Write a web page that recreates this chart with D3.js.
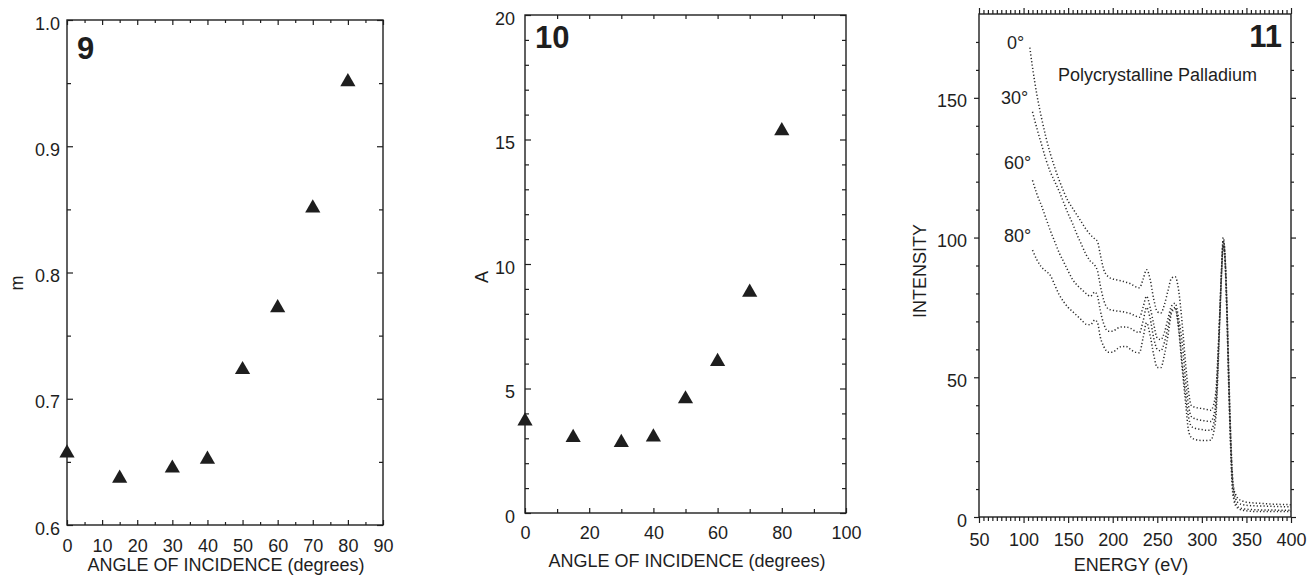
<!DOCTYPE html>
<html><head><meta charset="utf-8">
<script src="https://cdn.jsdelivr.net/npm/d3@7"></script>
<style>
body{margin:0;background:#fff;}
svg text{font-family:"Liberation Sans",Arial,Helvetica,sans-serif;fill:#1e1e1e;}
</style></head><body>
<svg id="c" width="1307" height="576"></svg>
<script>
// ---------- data ----------
const angles = [0, 15, 30, 40, 50, 60, 70, 80];
const mValues = [0.657, 0.637, 0.645, 0.652, 0.723, 0.772, 0.851, 0.951];
const aValues = [3.69, 3.03, 2.83, 3.05, 4.58, 6.08, 8.86, 15.35];

const fig9XTicks = [0, 10, 20, 30, 40, 50, 60, 70, 80, 90];
const fig9YTicks = [0.6, 0.7, 0.8, 0.9, 1.0];
const fig10XTicks = [0, 20, 40, 60, 80, 100];
const fig10YTicks = [0, 5, 10, 15, 20];
const fig11XTicks = [50, 100, 150, 200, 250, 300, 350, 400];
const fig11YTicks = [0, 50, 100, 150];

const energy = [107,110,115,120,125,130,135,140,145,150,155,160,165,170,175,180,183,186,190,195,
  200,205,210,215,220,225,230,234,238,242,246,250,254,258,262,266,270,274,278,282,285,288,292,296,
  300,305,310,313,316,318,320,322,324,326,328,330,332,334,336,338,341,345,350,360,370,380,390,400];
const int0 = [168,161,151,143,136,130,125,120.5,116.5,113,110.5,108,105.5,103,101,99.5,98.5,94,88.5,86,
  85.2,84.8,84.5,84,83.5,82.5,82,85,88.5,85,78,73.5,73,76,81,85.5,86,81,69,54,45,40,39.3,39,
  38.8,38.5,38.2,40,46,58,72,88,100,94,78,55,33,17,10,8,6.5,5.8,5.3,5,4.8,4.6,4.5,4.4];
const int30 = [null,145,139,133.5,128,123.5,120,116.5,112.5,108.5,105,101,97.5,94,91.5,90,88,83,77.5,74.5,
  74,73.7,73.5,73.2,72.8,72,71.5,75,79,75,69,64,63.5,66,71,75.5,76.5,71,62,48,40,36,35.2,34.8,
  34.6,34.3,34.2,36,43,56,72,88,99,93,76,52,31,15,9,6.5,5,4.5,4.2,4,3.9,3.8,3.7,3.6];
const int60 = [null,120.5,115.5,111.5,107,102.5,98.5,94.5,91.3,88,85,83,81.5,80,79,80.5,79,74,69,66.5,
  66.5,67.5,68,68,67.5,66.5,66,70,75,71,64,60,59.5,62.5,68,74,75,68,55,43,36,32.5,31.8,31.5,
  31.3,31,31,33,40,54,71,87,98,92,74,50,29,13,7,5,3.5,3,2.8,2.6,2.5,2.5,2.4,2.4];
const int80 = [null,95.5,92,89.5,88,86.5,83,79.5,77,75,73.5,72,70.5,69,68.8,70.5,69.5,64.5,61,59,
  59,60.2,61,61,60,59,58.8,64,69.5,65,58,53.5,53.5,58,65,73,74.5,67,53,40,31,28.5,27.8,27.5,
  27.4,27.4,27.5,30,37,51,69,86,97,91,73,48,27,11,6,4,3,2.5,2.2,2,2,2,2,2];
const spectra = [int0, int30, int60, int80];
const spectrumLabels = ["0°", "30°", "60°", "80°"];

// ---------- drawing ----------
const ink = "#1e1e1e";
const svg = d3.select("#c");
const FS = 18;

function styleAxis(g) {
  g.select(".domain").remove();
  g.selectAll("line").attr("stroke", ink).attr("stroke-width", 1.2);
  g.selectAll("text").attr("font-size", FS).attr("fill", ink)
    .style("font-family", '"Liberation Sans",Arial,sans-serif');
}

function frame(x, y) {
  const [x0, x1] = x.range(), [y0, y1] = y.range();
  svg.append("rect").attr("x", x0).attr("y", y1).attr("width", x1 - x0).attr("height", y0 - y1)
    .attr("fill", "none").attr("stroke", ink).attr("stroke-width", 1.4);
}

function ticksOnly(axisFn, scale, values, size, translate) {
  svg.append("g").attr("transform", translate)
    .call(axisFn(scale).tickValues(values).tickSize(size).tickFormat(""))
    .call(styleAxis);
}

// ===== Panel 9 =====
const x9 = d3.scaleLinear().domain([0, 90]).range([67, 383]);
const y9 = d3.scaleLinear().domain([0.6, 1.0]).range([525, 20]);
frame(x9, y9);
ticksOnly(d3.axisBottom, x9, d3.range(5, 90, 10), -3, `translate(0,${y9(0.6)})`);
ticksOnly(d3.axisTop, x9, d3.range(5, 90, 10), -3, `translate(0,${y9(1.0)})`);
ticksOnly(d3.axisTop, x9, fig9XTicks, -5, `translate(0,${y9(1.0)})`);
svg.append("g").attr("transform", `translate(0,${y9(0.6)})`)
  .call(d3.axisBottom(x9).tickValues(fig9XTicks).tickSize(-5).tickPadding(14).tickFormat(d3.format("d")))
  .call(styleAxis);
ticksOnly(d3.axisLeft, y9, [0.65, 0.75, 0.85, 0.95], -4, `translate(${x9(0)},0)`);
ticksOnly(d3.axisRight, y9, [0.65, 0.75, 0.85, 0.95], -4, `translate(${x9(90)},0)`);
ticksOnly(d3.axisRight, y9, fig9YTicks, -6, `translate(${x9(90)},0)`);
svg.append("g").attr("transform", `translate(${x9(0)},0)`)
  .call(d3.axisLeft(y9).tickValues(fig9YTicks).tickSize(-6).tickPadding(7).tickFormat(d3.format(".1f")))
  .call(styleAxis)
  .call(g => g.selectAll("text").attr("dy", "0.5em"));

const tri = d3.symbol().type(d3.symbolTriangle).size(100);
svg.append("g").selectAll("path").data(angles).join("path")
  .attr("d", tri).attr("fill", ink)
  .attr("transform", (d, i) => `translate(${x9(d)},${y9(mValues[i])})`);

svg.append("text").attr("x", 77).attr("y", 59).attr("font-size", 31).attr("font-weight", "bold").text("9");
svg.append("text").attr("transform", "translate(23,283) rotate(-90)").attr("text-anchor", "middle")
  .attr("font-size", FS).text("m");
svg.append("text").attr("x", 226).attr("y", 571).attr("text-anchor", "middle")
  .attr("font-size", FS).text("ANGLE OF INCIDENCE (degrees)");

// ===== Panel 10 =====
const x10 = d3.scaleLinear().domain([0, 100]).range([525, 846]);
const y10 = d3.scaleLinear().domain([0, 20]).range([513, 15]);
frame(x10, y10);
ticksOnly(d3.axisBottom, x10, d3.range(10, 100, 20), -4, `translate(0,${y10(0)})`);
ticksOnly(d3.axisTop, x10, d3.range(10, 100, 10), -4, `translate(0,${y10(20)})`);
svg.append("g").attr("transform", `translate(0,${y10(0)})`)
  .call(d3.axisBottom(x10).tickValues(fig10XTicks).tickSize(-5).tickPadding(13).tickFormat(d3.format("d")))
  .call(styleAxis);
const minor10 = d3.range(1, 20).filter(v => v % 5 !== 0);
ticksOnly(d3.axisLeft, y10, minor10, -4, `translate(${x10(0)},0)`);
ticksOnly(d3.axisRight, y10, minor10, -4, `translate(${x10(100)},0)`);
ticksOnly(d3.axisRight, y10, fig10YTicks, -6, `translate(${x10(100)},0)`);
svg.append("g").attr("transform", `translate(${x10(0)},0)`)
  .call(d3.axisLeft(y10).tickValues(fig10YTicks).tickSize(-6).tickPadding(10).tickFormat(d3.format("d")))
  .call(styleAxis)
  .call(g => g.selectAll("text").attr("dy", "0.5em"));

svg.append("g").selectAll("path").data(angles).join("path")
  .attr("d", tri).attr("fill", ink)
  .attr("transform", (d, i) => `translate(${x10(d)},${y10(aValues[i])})`);

svg.append("text").attr("x", 535).attr("y", 48).attr("font-size", 31).attr("font-weight", "bold").text("10");
svg.append("text").attr("transform", "translate(488,277) rotate(-90)").attr("text-anchor", "middle")
  .attr("font-size", FS).text("A");
svg.append("text").attr("x", 687).attr("y", 567).attr("text-anchor", "middle")
  .attr("font-size", FS).text("ANGLE OF INCIDENCE (degrees)");

// ===== Panel 11 =====
const x11 = d3.scaleLinear().domain([50, 400]).range([979, 1291]);
const y11 = d3.scaleLinear().domain([0, 180]).range([517, 14]);
frame(x11, y11);
const minor11 = d3.range(55, 400, 5).filter(v => v % 50 !== 0);
ticksOnly(d3.axisBottom, x11, minor11, 4, `translate(0,${y11(0)})`);
ticksOnly(d3.axisTop, x11, minor11, 4, `translate(0,${y11(180)})`);
ticksOnly(d3.axisTop, x11, fig11XTicks, 6, `translate(0,${y11(180)})`);
svg.append("g").attr("transform", `translate(0,${y11(0)})`)
  .call(d3.axisBottom(x11).tickValues(fig11XTicks).tickSize(6).tickPadding(10).tickFormat(d3.format("d")))
  .call(styleAxis);
const minorY11 = d3.range(10, 180, 10).filter(v => v % 50 !== 0);
ticksOnly(d3.axisLeft, y11, minorY11, 3, `translate(${x11(50)},0)`);
ticksOnly(d3.axisRight, y11, minorY11, 3, `translate(${x11(400)},0)`);
ticksOnly(d3.axisRight, y11, fig11YTicks, 5, `translate(${x11(400)},0)`);
svg.append("g").attr("transform", `translate(${x11(50)},0)`)
  .call(d3.axisLeft(y11).tickValues(fig11YTicks).tickSize(5).tickPadding(7).tickFormat(d3.format("d")))
  .call(styleAxis)
  .call(g => g.selectAll("text").attr("dy", "0.5em"));

const line11 = d3.line()
  .defined(d => d[1] !== null)
  .x(d => x11(d[0])).y(d => y11(d[1]))
  .curve(d3.curveMonotoneX);
svg.append("g").selectAll("path").data(spectra).join("path")
  .attr("d", s => line11(energy.map((e, i) => [e, s[i]])))
  .attr("fill", "none").attr("stroke", "#2a2a2a").attr("stroke-width", 1.5)
  .attr("stroke-dasharray", "1.2,2.2");

const labelPos = [[1007, 49], [1001, 104], [1004, 169], [1004, 242]];
svg.append("g").selectAll("text").data(spectrumLabels).join("text")
  .attr("x", (d, i) => labelPos[i][0]).attr("y", (d, i) => labelPos[i][1])
  .attr("font-size", FS).text(d => d);

svg.append("text").attr("x", 1282).attr("y", 47).attr("text-anchor", "end")
  .attr("font-size", 31).attr("font-weight", "bold").text("11");
svg.append("text").attr("x", 1058).attr("y", 81).attr("font-size", 18).text("Polycrystalline Palladium");
svg.append("text").attr("transform", "translate(926,271) rotate(-90)").attr("text-anchor", "middle")
  .attr("font-size", FS).text("INTENSITY");
svg.append("text").attr("x", 1131).attr("y", 571).attr("text-anchor", "middle")
  .attr("font-size", FS).text("ENERGY (eV)");
</script>
</body></html>
